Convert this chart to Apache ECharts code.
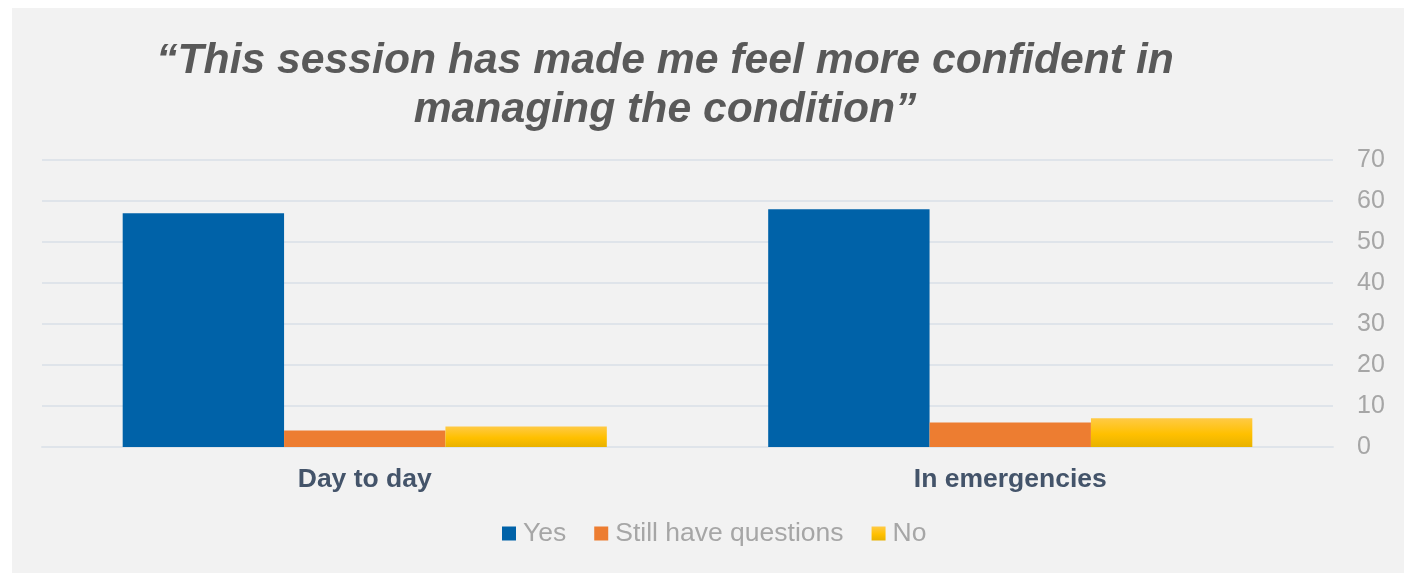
<!DOCTYPE html>
<html>
<head>
<meta charset="utf-8">
<script src="https://cdn.jsdelivr.net/npm/echarts@6/dist/echarts.min.js"></script>
<style>
  html, body { margin: 0; padding: 0; background: #ffffff; }
  #chart { width: 1409px; height: 577px; }
</style>
</head>
<body>
<div id="chart"></div>
<script>
const titleLines = ['\u201CThis session has made me feel more confident in', 'managing the condition\u201D'];
const categories = ['Day to day', 'In emergencies'];
const seriesNames = ['Yes', 'Still have questions', 'No'];
const yesValues = [57, 58];
const questionValues = [4, 6];
const noValues = [5, 7];
const yTicks = [0, 10, 20, 30, 40, 50, 60, 70];

const FONT = '"Liberation Sans", Arial, sans-serif';
const yellowGrad = new echarts.graphic.LinearGradient(0, 0, 0, 1, [
  { offset: 0, color: '#ffca45' },
  { offset: 0.55, color: '#ffc000' },
  { offset: 1, color: '#e8b200' }
]);

const chart = echarts.init(document.getElementById('chart'), null, { renderer: 'canvas' });
chart.setOption({
  backgroundColor: '#ffffff',
  animation: false,
  graphic: [{
    type: 'rect', z: -10, silent: true,
    shape: { x: 12, y: 8, width: 1392, height: 565 },
    style: { fill: '#f2f2f2' }
  }],
  title: {
    text: titleLines.join('\n'),
    left: 660,
    top: 32,
    textAlign: 'center',
    textStyle: {
      fontFamily: FONT, fontSize: 42.7, fontWeight: 'bold', fontStyle: 'italic',
      color: '#595959', lineHeight: 49
    }
  },
  legend: {
    data: seriesNames,
    left: 502,
    top: 520,
    icon: 'rect',
    itemWidth: 14,
    itemHeight: 14,
    itemGap: 28,
    padding: 0,
    textStyle: { fontFamily: FONT, fontSize: 26.5, color: '#a6a6a6', padding: [0, 0, 0, 2] }
  },
  grid: { left: 42, right: 76, top: 160, bottom: 130, containLabel: false },
  xAxis: {
    type: 'category',
    data: categories,
    axisLine: { show: true, lineStyle: { color: '#dfe4ea', width: 2 } },
    axisTick: { show: false },
    axisLabel: { fontFamily: FONT, fontSize: 26.5, fontWeight: 'bold', color: '#44546a', margin: 19 }
  },
  yAxis: {
    type: 'value',
    position: 'right',
    min: yTicks[0],
    max: yTicks[yTicks.length - 1],
    interval: 10,
    axisLine: { show: false },
    axisTick: { show: false },
    axisLabel: { fontFamily: FONT, fontSize: 25, color: '#a6a6a6', margin: 24 },
    splitLine: { lineStyle: { color: '#dfe4ea', width: 2 } }
  },
  series: [
    { name: seriesNames[0], type: 'bar', data: yesValues, barGap: '0%', barCategoryGap: '25%',
      itemStyle: { color: '#0062a8' } },
    { name: seriesNames[1], type: 'bar', data: questionValues, barGap: '0%', barCategoryGap: '25%',
      itemStyle: { color: '#ed7d31' } },
    { name: seriesNames[2], type: 'bar', data: noValues, barGap: '0%', barCategoryGap: '25%',
      itemStyle: { color: yellowGrad } }
  ]
});
</script>
</body>
</html>
